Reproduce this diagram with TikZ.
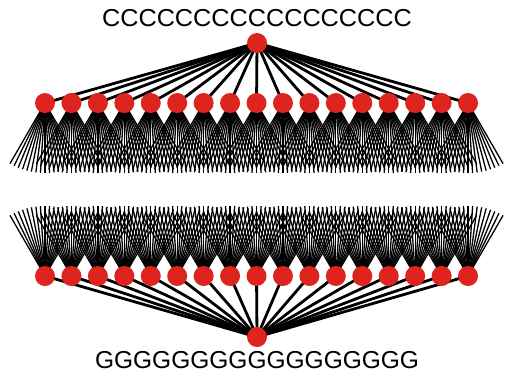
\documentclass[tikz,border=0pt]{standalone}
\usepackage{fontspec}
\setmainfont{Liberation Sans}
\usetikzlibrary{positioning}
\definecolor{nodered}{RGB}{222,36,30}

\begin{document}
\begin{tikzpicture}[x=1pt, y=-1pt,
    dot/.style={circle, fill=nodered, inner sep=0pt, minimum size=20pt},
    trunk/.style={line width=2.8pt, black},
    twig/.style={line width=1.3pt, black},
    seq/.style={font=\fontsize{24.5}{26}\selectfont, inner sep=0pt}]
    \useasboundingbox (0,0) rectangle (505,378);

    % positions
    \coordinate (top) at (257,43);
    \coordinate (bot) at (257,337);
    \foreach \i in {0,...,16} {
        \coordinate (u\i) at (45+26.44*\i,103);
        \coordinate (d\i) at (45+26.44*\i,276);
    }

    % top -> upper row, bottom -> lower row
    \foreach \i in {0,...,16} {
        \draw[trunk] (top) -- (u\i);
        \draw[trunk] (bot) -- (d\i);
    }

    % fans
    \foreach \i in {0,...,16}
        \foreach \a in {60,63.75,...,120.1} {
            \draw[twig] (u\i) -- ++(\a:70);
            \draw[twig] (d\i) -- ++(-\a:70);
        }

    % nodes
    \node[dot] (topdot) at (top) {};
    \node[dot] (botdot) at (bot) {};
    \foreach \i in {0,...,16} {
        \node[dot] (udot\i) at (u\i) {};
        \node[dot] (ddot\i) at (d\i) {};
    }

    % sequences
    \node[seq, xscale=1.03] (ctext) at (257,18) {CCCCCCCCCCCCCCCCC};
    \node[seq] (gtext) at (257,360) {GGGGGGGGGGGGGGGGG};
\end{tikzpicture}
\end{document}
